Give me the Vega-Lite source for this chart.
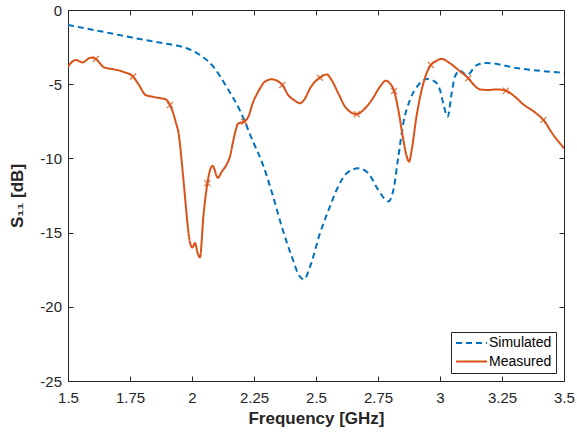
{
  "$schema": "https://vega.github.io/schema/vega-lite/v6.json",
  "width": 496,
  "height": 371,
  "autosize": {"type": "none"},
  "padding": {"left": 68, "top": 10, "right": 13, "bottom": 53},
  "background": "white",
  "config": {
    "view": {"stroke": null},
    "font": "Liberation Sans",
    "axis": {
      "grid": false,
      "domainColor": "#262626",
      "tickColor": "#262626",
      "labelColor": "#262626",
      "titleColor": "#262626",
      "labelFont": "Liberation Sans",
      "titleFont": "Liberation Sans",
      "labelFontSize": 15,
      "titleFontSize": 17,
      "titleFontWeight": "bold",
      "tickSize": -5,
      "labelPadding": 12,
      "domainWidth": 1,
      "tickWidth": 1
    },
    "legend": {
      "orient": "bottom-right",
      "offset": 8,
      "padding": 4,
      "strokeColor": "#262626",
      "fillColor": "white",
      "labelFont": "Liberation Sans",
      "labelFontSize": 14,
      "labelColor": "#000000",
      "symbolType": "stroke",
      "symbolSize": 961,
      "symbolStrokeWidth": 2,
      "clipHeight": 14,
      "rowPadding": 4.5,
      "labelOffset": 1,
      "title": null
    }
  },
  "datasets": {
    "simulated": [
      {"f": 1.500, "s": -1.01, "series": "Simulated"},
      {"f": 1.618, "s": -1.39, "series": "Simulated"},
      {"f": 1.753, "s": -1.84, "series": "Simulated"},
      {"f": 1.887, "s": -2.25, "series": "Simulated"},
      {"f": 1.979, "s": -2.58, "series": "Simulated"},
      {"f": 2.032, "s": -3.03, "series": "Simulated"},
      {"f": 2.086, "s": -3.82, "series": "Simulated"},
      {"f": 2.140, "s": -5.20, "series": "Simulated"},
      {"f": 2.194, "s": -6.80, "series": "Simulated"},
      {"f": 2.247, "s": -8.90, "series": "Simulated"},
      {"f": 2.284, "s": -10.33, "series": "Simulated"},
      {"f": 2.325, "s": -12.45, "series": "Simulated"},
      {"f": 2.362, "s": -14.60, "series": "Simulated"},
      {"f": 2.402, "s": -16.60, "series": "Simulated"},
      {"f": 2.435, "s": -17.97, "series": "Simulated"},
      {"f": 2.452, "s": -18.15, "series": "Simulated"},
      {"f": 2.476, "s": -17.30, "series": "Simulated"},
      {"f": 2.516, "s": -15.05, "series": "Simulated"},
      {"f": 2.556, "s": -13.25, "series": "Simulated"},
      {"f": 2.583, "s": -12.13, "series": "Simulated"},
      {"f": 2.624, "s": -11.00, "series": "Simulated"},
      {"f": 2.671, "s": -10.67, "series": "Simulated"},
      {"f": 2.711, "s": -11.00, "series": "Simulated"},
      {"f": 2.751, "s": -12.13, "series": "Simulated"},
      {"f": 2.792, "s": -12.90, "series": "Simulated"},
      {"f": 2.812, "s": -12.13, "series": "Simulated"},
      {"f": 2.832, "s": -9.88, "series": "Simulated"},
      {"f": 2.852, "s": -7.64, "series": "Simulated"},
      {"f": 2.879, "s": -6.06, "series": "Simulated"},
      {"f": 2.913, "s": -5.05, "series": "Simulated"},
      {"f": 2.949, "s": -4.65, "series": "Simulated"},
      {"f": 2.980, "s": -4.83, "series": "Simulated"},
      {"f": 3.000, "s": -5.39, "series": "Simulated"},
      {"f": 3.013, "s": -6.29, "series": "Simulated"},
      {"f": 3.031, "s": -7.19, "series": "Simulated"},
      {"f": 3.047, "s": -5.62, "series": "Simulated"},
      {"f": 3.060, "s": -4.49, "series": "Simulated"},
      {"f": 3.081, "s": -4.10, "series": "Simulated"},
      {"f": 3.108, "s": -4.40, "series": "Simulated"},
      {"f": 3.148, "s": -3.71, "series": "Simulated"},
      {"f": 3.188, "s": -3.57, "series": "Simulated"},
      {"f": 3.316, "s": -3.93, "series": "Simulated"},
      {"f": 3.500, "s": -4.24, "series": "Simulated"}
    ],
    "measured": [
      {"f": 1.500, "s": -3.82, "series": "Measured"},
      {"f": 1.531, "s": -3.37, "series": "Measured"},
      {"f": 1.558, "s": -3.53, "series": "Measured"},
      {"f": 1.592, "s": -3.21, "series": "Measured"},
      {"f": 1.612, "s": -3.30, "series": "Measured"},
      {"f": 1.645, "s": -3.86, "series": "Measured"},
      {"f": 1.685, "s": -4.00, "series": "Measured"},
      {"f": 1.726, "s": -4.18, "series": "Measured"},
      {"f": 1.762, "s": -4.49, "series": "Measured"},
      {"f": 1.786, "s": -5.05, "series": "Measured"},
      {"f": 1.813, "s": -5.73, "series": "Measured"},
      {"f": 1.840, "s": -5.84, "series": "Measured"},
      {"f": 1.874, "s": -5.95, "series": "Measured"},
      {"f": 1.894, "s": -6.02, "series": "Measured"},
      {"f": 1.911, "s": -6.40, "series": "Measured"},
      {"f": 1.934, "s": -7.52, "series": "Measured"},
      {"f": 1.948, "s": -8.54, "series": "Measured"},
      {"f": 1.957, "s": -9.95, "series": "Measured"},
      {"f": 1.968, "s": -11.90, "series": "Measured"},
      {"f": 1.979, "s": -13.90, "series": "Measured"},
      {"f": 1.988, "s": -15.30, "series": "Measured"},
      {"f": 2.001, "s": -16.00, "series": "Measured"},
      {"f": 2.012, "s": -15.70, "series": "Measured"},
      {"f": 2.023, "s": -16.40, "series": "Measured"},
      {"f": 2.032, "s": -16.67, "series": "Measured"},
      {"f": 2.046, "s": -13.90, "series": "Measured"},
      {"f": 2.062, "s": -11.68, "series": "Measured"},
      {"f": 2.073, "s": -10.78, "series": "Measured"},
      {"f": 2.083, "s": -10.50, "series": "Measured"},
      {"f": 2.104, "s": -11.30, "series": "Measured"},
      {"f": 2.120, "s": -10.90, "series": "Measured"},
      {"f": 2.140, "s": -10.40, "series": "Measured"},
      {"f": 2.153, "s": -9.88, "series": "Measured"},
      {"f": 2.167, "s": -8.76, "series": "Measured"},
      {"f": 2.187, "s": -7.64, "series": "Measured"},
      {"f": 2.211, "s": -7.52, "series": "Measured"},
      {"f": 2.227, "s": -7.19, "series": "Measured"},
      {"f": 2.247, "s": -6.18, "series": "Measured"},
      {"f": 2.267, "s": -5.50, "series": "Measured"},
      {"f": 2.294, "s": -4.83, "series": "Measured"},
      {"f": 2.321, "s": -4.67, "series": "Measured"},
      {"f": 2.342, "s": -4.76, "series": "Measured"},
      {"f": 2.364, "s": -5.05, "series": "Measured"},
      {"f": 2.388, "s": -5.73, "series": "Measured"},
      {"f": 2.415, "s": -6.11, "series": "Measured"},
      {"f": 2.435, "s": -6.29, "series": "Measured"},
      {"f": 2.456, "s": -5.95, "series": "Measured"},
      {"f": 2.476, "s": -5.28, "series": "Measured"},
      {"f": 2.496, "s": -4.83, "series": "Measured"},
      {"f": 2.516, "s": -4.56, "series": "Measured"},
      {"f": 2.543, "s": -4.34, "series": "Measured"},
      {"f": 2.563, "s": -4.72, "series": "Measured"},
      {"f": 2.590, "s": -5.62, "series": "Measured"},
      {"f": 2.617, "s": -6.51, "series": "Measured"},
      {"f": 2.637, "s": -6.85, "series": "Measured"},
      {"f": 2.664, "s": -7.03, "series": "Measured"},
      {"f": 2.691, "s": -6.74, "series": "Measured"},
      {"f": 2.725, "s": -6.06, "series": "Measured"},
      {"f": 2.758, "s": -5.17, "series": "Measured"},
      {"f": 2.782, "s": -4.76, "series": "Measured"},
      {"f": 2.798, "s": -4.94, "series": "Measured"},
      {"f": 2.815, "s": -5.46, "series": "Measured"},
      {"f": 2.832, "s": -6.74, "series": "Measured"},
      {"f": 2.850, "s": -8.54, "series": "Measured"},
      {"f": 2.866, "s": -9.88, "series": "Measured"},
      {"f": 2.875, "s": -10.22, "series": "Measured"},
      {"f": 2.886, "s": -9.43, "series": "Measured"},
      {"f": 2.903, "s": -7.41, "series": "Measured"},
      {"f": 2.926, "s": -5.39, "series": "Measured"},
      {"f": 2.963, "s": -3.71, "series": "Measured"},
      {"f": 2.980, "s": -3.48, "series": "Measured"},
      {"f": 3.007, "s": -3.30, "series": "Measured"},
      {"f": 3.040, "s": -3.59, "series": "Measured"},
      {"f": 3.074, "s": -4.04, "series": "Measured"},
      {"f": 3.114, "s": -4.60, "series": "Measured"},
      {"f": 3.141, "s": -5.12, "series": "Measured"},
      {"f": 3.161, "s": -5.35, "series": "Measured"},
      {"f": 3.195, "s": -5.39, "series": "Measured"},
      {"f": 3.229, "s": -5.35, "series": "Measured"},
      {"f": 3.266, "s": -5.44, "series": "Measured"},
      {"f": 3.302, "s": -5.84, "series": "Measured"},
      {"f": 3.336, "s": -6.36, "series": "Measured"},
      {"f": 3.383, "s": -6.90, "series": "Measured"},
      {"f": 3.417, "s": -7.41, "series": "Measured"},
      {"f": 3.457, "s": -8.42, "series": "Measured"},
      {"f": 3.500, "s": -9.32, "series": "Measured"}
    ],
    "markers": [
      {"f": 1.612, "s": -3.30},
      {"f": 1.762, "s": -4.49},
      {"f": 1.911, "s": -6.40},
      {"f": 2.062, "s": -11.68},
      {"f": 2.211, "s": -7.52},
      {"f": 2.364, "s": -5.05},
      {"f": 2.516, "s": -4.56},
      {"f": 2.664, "s": -7.03},
      {"f": 2.815, "s": -5.46},
      {"f": 2.963, "s": -3.71},
      {"f": 3.114, "s": -4.60},
      {"f": 3.266, "s": -5.44},
      {"f": 3.417, "s": -7.41}
    ]
  },
  "resolve": {"axis": {"x": "independent", "y": "independent"}},
  "layer": [
    {
      "data": {"name": "simulated"},
      "mark": {"type": "line", "strokeWidth": 2, "interpolate": "monotone", "clip": true},
      "encoding": {
        "x": {
          "field": "f", "type": "quantitative",
          "scale": {"domain": [1.5, 3.5], "nice": false, "zero": false},
          "axis": {"orient": "bottom", "values": [1.5, 1.75, 2, 2.25, 2.5, 2.75, 3, 3.25, 3.5], "labelExpr": "'' + datum.value", "title": "Frequency [GHz]", "titlePadding": 5, "labelPadding": 14, "labelFlush": false}
        },
        "y": {
          "field": "s", "type": "quantitative",
          "scale": {"domain": [-25, 0], "nice": false, "zero": false},
          "axis": {"orient": "left", "values": [-25, -20, -15, -10, -5, 0], "labelExpr": "'' + datum.value", "title": "S₁₁ [dB]", "titlePadding": 13, "labelPadding": 11.5, "labelFlush": false}
        },
        "color": {"field": "series", "type": "nominal", "scale": {"domain": ["Simulated", "Measured"], "range": ["#0072BD", "#D95319"]}},
        "strokeDash": {"field": "series", "type": "nominal", "scale": {"domain": ["Simulated", "Measured"], "range": [[6, 4], [1, 0]]}}
      }
    },
    {
      "data": {"name": "measured"},
      "mark": {"type": "line", "strokeWidth": 2, "interpolate": "monotone", "clip": true},
      "encoding": {
        "x": {
          "field": "f", "type": "quantitative",
          "axis": {"orient": "top", "values": [1.5, 1.75, 2, 2.25, 2.5, 2.75, 3, 3.25, 3.5], "labels": false, "title": null}
        },
        "y": {
          "field": "s", "type": "quantitative",
          "axis": {"orient": "right", "values": [-25, -20, -15, -10, -5, 0], "labels": false, "title": null}
        },
        "color": {"field": "series", "type": "nominal"},
        "strokeDash": {"field": "series", "type": "nominal"}
      }
    },
    {
      "data": {"name": "markers"},
      "mark": {"type": "point", "shape": "M-1,-1L1,1M1,-1L-1,1", "filled": false, "color": "#D95319", "size": 36, "strokeWidth": 1.5},
      "encoding": {
        "x": {"field": "f", "type": "quantitative", "axis": null},
        "y": {"field": "s", "type": "quantitative", "axis": null}
      }
    },
    {
      "mark": {"type": "rule", "color": "#FF0000", "strokeWidth": 2},
      "encoding": {
        "y": {"datum": -10, "axis": null}
      }
    }
  ]
}
